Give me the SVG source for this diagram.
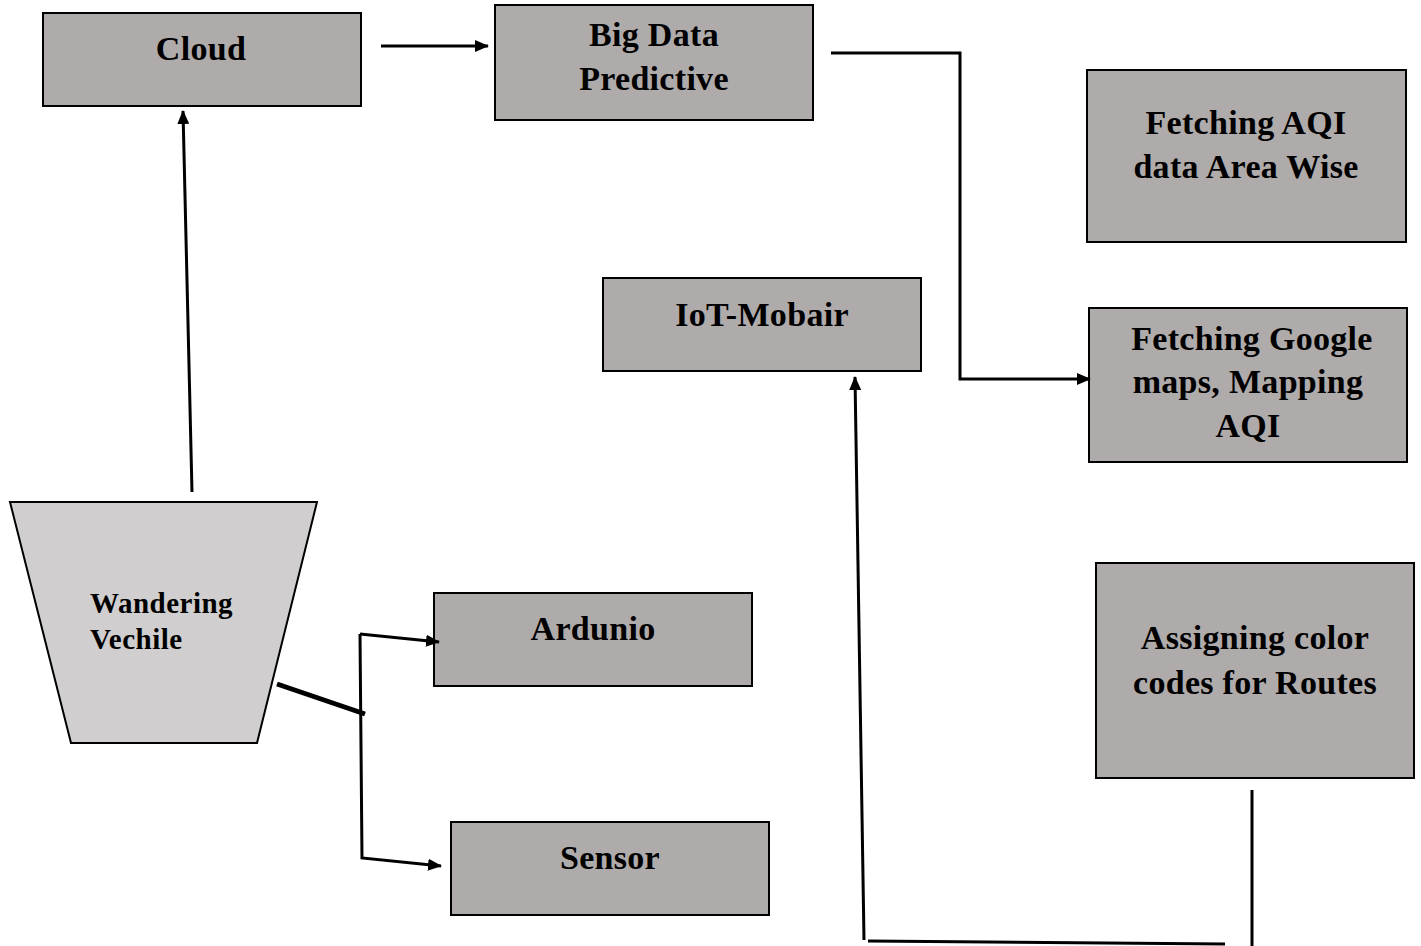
<svg xmlns="http://www.w3.org/2000/svg" width="1421" height="946" viewBox="0 0 1421 946">
<style>
.box{fill:#AFABAB;stroke:#000;stroke-width:2}
.trap{fill:#D0CECE;stroke:#000;stroke-width:2}
.lbl{font-family:"Liberation Serif","Times New Roman",serif;font-weight:bold;font-size:34px;fill:#000;text-anchor:middle;letter-spacing:0.3px}
.small{font-family:"Liberation Serif","Times New Roman",serif;font-weight:bold;font-size:29px;fill:#000;letter-spacing:0.5px}
.con{fill:none;stroke:#000;stroke-width:3}
</style>
<defs>
<marker id="ah" markerWidth="14" markerHeight="12" refX="13" refY="6" orient="auto" markerUnits="userSpaceOnUse" viewBox="0 0 14 12">
<path d="M0,0 L14,6 L0,12 z" fill="#000"/>
</marker>
</defs>
<rect width="1421" height="946" fill="#fff"/>
<g id="cloud"><rect class="box" x="43" y="13" width="318" height="93"/><text class="lbl" x="201" y="60">Cloud</text></g>
<g id="bigdata"><rect class="box" x="495" y="5" width="318" height="115"/><text class="lbl" x="654" y="46">Big Data</text><text class="lbl" x="654" y="90">Predictive</text></g>
<g id="fetchaqi"><rect class="box" x="1087" y="70" width="319" height="172"/><text class="lbl" x="1246" y="134">Fetching AQI</text><text class="lbl" x="1246" y="178">data Area Wise</text></g>
<g id="iot"><rect class="box" x="603" y="278" width="318" height="93"/><text class="lbl" x="762" y="326">IoT-Mobair</text></g>
<g id="fetchgoogle"><rect class="box" x="1089" y="308" width="318" height="154"/><text class="lbl" x="1252" y="350">Fetching Google</text><text class="lbl" x="1248" y="393">maps, Mapping</text><text class="lbl" x="1248" y="437">AQI</text></g>
<g id="assign"><rect class="box" x="1096" y="563" width="318" height="215"/><text class="lbl" x="1255" y="649">Assigning color</text><text class="lbl" x="1255" y="694">codes for Routes</text></g>
<g id="vehicle"><polygon class="trap" points="10,502 317,502 257,743 71,743"/><text class="small" x="90" y="613">Wandering</text><text class="small" x="90" y="649">Vechile</text></g>
<g id="ardunio"><rect class="box" x="434" y="593" width="318" height="93"/><text class="lbl" x="593" y="640">Ardunio</text></g>
<g id="sensor"><rect class="box" x="451" y="822" width="318" height="93"/><text class="lbl" x="610" y="869">Sensor</text></g>
<g id="connectors">
<line class="con" x1="381" y1="46" x2="488" y2="46" marker-end="url(#ah)"/>
<polyline class="con" points="831,53 960,53 960,379 1090,379" marker-end="url(#ah)"/>
<line class="con" x1="192" y1="492" x2="183" y2="111" marker-end="url(#ah)"/>
<line x1="277" y1="684" x2="365" y2="714" stroke="#000" stroke-width="5"/>
<polyline class="con" points="360,634 362,858 441,866" marker-end="url(#ah)"/>
<line class="con" x1="360" y1="634" x2="439" y2="642" marker-end="url(#ah)"/>
<line class="con" x1="1252" y1="790" x2="1252" y2="946"/>
<line class="con" x1="1225" y1="944" x2="868" y2="941"/>
<line class="con" x1="864" y1="940" x2="855" y2="377" marker-end="url(#ah)"/>
</g>
</svg>
